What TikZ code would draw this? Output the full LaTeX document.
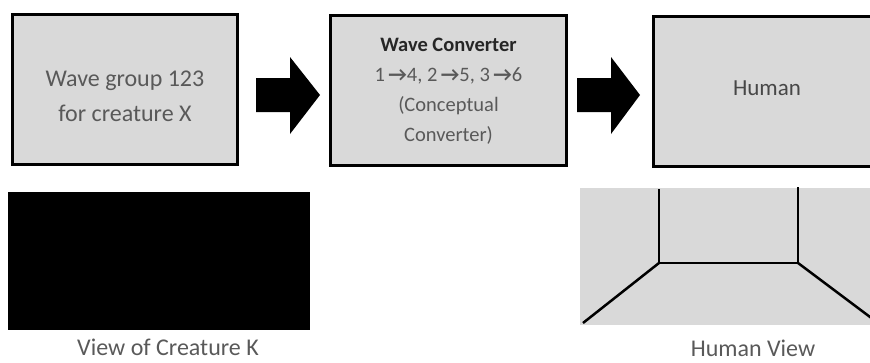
\documentclass[tikz,border=0pt]{standalone}
\usepackage{fontspec}
\setmainfont{Carlito}
\definecolor{boxgray}{HTML}{D9D9D9}
\definecolor{txtgray}{HTML}{595959}
\definecolor{darktxt}{HTML}{262626}
\tikzset{
  panel/.style={draw=black, line width=3pt, fill=boxgray, inner sep=0pt, anchor=center},
  bigarrow/.style={fill=black, draw=none},
  caption/.style={text=txtgray, font=\fontsize{24}{28}\selectfont, inner sep=0pt, anchor=center},
  wall/.style={line width=2.5pt, black, line join=miter},
}
\begin{document}
\begin{tikzpicture}[x=1pt, y=-1pt]
\useasboundingbox (0,0) rectangle (870,362);
\clip (0,0) rectangle (870,362);
% top row boxes
\node[panel, minimum width=225pt, minimum height=150pt] (b1) at (125,89.5) {};
\node[text=txtgray, align=center, font=\fontsize{24}{35}\selectfont, inner sep=0pt] (t1) at (125,96) {Wave group 123\\for creature X};
\node[panel, minimum width=236pt, minimum height=150pt] (b2) at (448.5,90.5) {};
\node[text=txtgray, align=center, font=\fontsize{20.5}{30}\selectfont, inner sep=0pt] (t2) at (448.5,91)
  {\textcolor{darktxt}{\bfseries Wave Converter}\\1\,\textbf{→}4, 2\,\textbf{→}5, 3\,\textbf{→}6\\(Conceptual\\Converter)};
\node[panel, minimum width=227pt, minimum height=150pt] (b3) at (767,91.5) {};
\node[text=darktxt!85!white, font=\fontsize{23}{28}\selectfont, inner sep=0pt] (t3) at (767,88) {Human};
% block arrows
\fill[bigarrow] (256,78) -- (290,78) -- (290,57) -- (320,95) -- (290,134) -- (290,112) -- (256,112) -- cycle;
\fill[bigarrow] (577,78) -- (611,78) -- (611,57) -- (640,95) -- (611,134) -- (611,112) -- (577,112) -- cycle;
% bottom left: view of creature
\node[fill=black, minimum width=302pt, minimum height=138pt, inner sep=0pt] (v1) at (159,261) {};
\node[caption] (c1) at (168,347) {View of Creature K};
% bottom right: human view
\node[fill=boxgray, minimum width=300pt, minimum height=137pt, inner sep=0pt] (v2) at (730,256.5) {};
\coordinate (p1) at (659,189);
\coordinate (p2) at (659,263);
\coordinate (p3) at (798,263);
\coordinate (p4) at (798,187);
\coordinate (p5) at (583,323);
\coordinate (p6) at (882,326);
\draw[wall] (p1) -- (p2) -- (p3) -- (p4);
\draw[wall] (p2) -- (p5);
\draw[wall] (p3) -- (p6);
\node[caption] (c2) at (753,348.5) {Human View};
\end{tikzpicture}
\end{document}
